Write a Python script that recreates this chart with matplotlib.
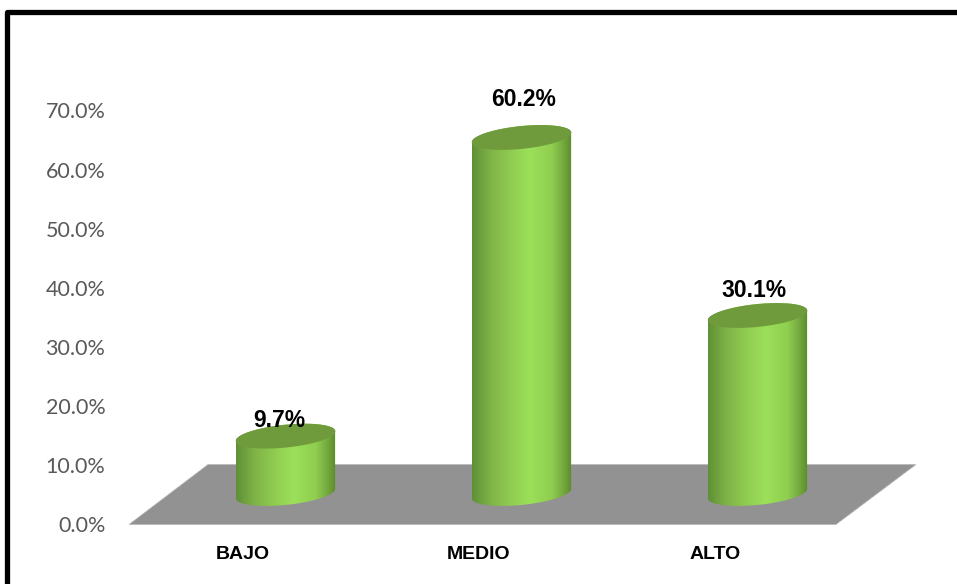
import numpy as np
import matplotlib
matplotlib.use("Agg")
import matplotlib.pyplot as plt
from matplotlib.colors import LinearSegmentedColormap
from matplotlib.lines import Line2D
from matplotlib.patches import Polygon

categories = ["BAJO", "MEDIO", "ALTO"]
values = [9.7, 60.2, 30.1]
value_labels = ["9.7%", "60.2%", "30.1%"]
y_ticks = [0, 10, 20, 30, 40, 50, 60, 70]
y_tick_labels = ["0.0%", "10.0%", "20.0%", "30.0%", "40.0%", "50.0%", "60.0%", "70.0%"]

W, H = 957, 584
L, R, B, T = 129, 916, 524.5, 95.5
PX_Y = 414 / 70        # pixels per percentage point
PX_X = 236             # pixels per category
X0 = 243               # pixel of the first category tick

fig = plt.figure(figsize=(W / 100, H / 100), dpi=100, facecolor="white")
ax = fig.add_axes([L / W, 1 - B / H, (R - L) / W, (B - T) / H])
ax.set_xlim((L - X0) / PX_X, (R - X0) / PX_X)
ax.set_ylim(0, (B - T) / PX_Y)
ax.patch.set_alpha(0)
for s in ax.spines.values():
    s.set_visible(False)

# floor
dx = lambda px: px / PX_X
dy = lambda px: px / PX_Y
xa, xb = ax.get_xlim()
floor_depth = dy(60)
floor = Polygon([(xa, 0), (xb - dx(80), 0), (xb, floor_depth), (xa + dx(79), floor_depth)],
                closed=True, fc="#929292", ec="#b8b8b8", lw=0.5, zorder=1)
ax.add_patch(floor)

# cylinders
cmap = LinearSegmentedColormap.from_list("cyl", [
    (0.00, "#5f9036"), (0.06, "#6a9c3c"), (0.20, "#80b548"), (0.42, "#92d052"), (0.58, "#9ce05a"),
    (0.80, "#8fce50"), (0.92, "#74a83e"), (1.00, "#5a8a2c")])
grad = np.linspace(0, 1, 256).reshape(1, -1)
A, Bm = 50, 11.4
tilt = np.arctan2(5, 49)
base_y = dy(31)
x_shift = dx(42.5)


def ell(cx, cy, t):
    px = A * np.cos(t) * np.cos(tilt) - Bm * np.sin(t) * np.sin(tilt)
    py = A * np.cos(t) * np.sin(tilt) + Bm * np.sin(t) * np.cos(tilt)
    return cx + dx(px), cy + dy(py)


offsets = [(-6, 16), (2, 38), (-4, 25)]
for i, (v, lab, off) in enumerate(zip(values, value_labels, offsets)):
    cx = i + x_shift
    top = base_y + v
    t_bot = np.linspace(np.pi - 0.1, 2 * np.pi - 0.1, 80)
    bx, by = ell(cx, base_y, t_bot)
    t_top = np.linspace(-0.1, np.pi - 0.1, 40)
    tx, ty = ell(cx, top, t_top)
    pts = np.column_stack([np.r_[bx, tx], np.r_[by, ty]])
    clip = Polygon(pts, closed=True, fc="none", ec="none", transform=ax.transData)
    ax.add_patch(clip)
    im = ax.imshow(grad, cmap=cmap, aspect="auto", zorder=2, interpolation="bilinear",
                   extent=(cx - dx(A), cx + dx(A), base_y - dy(14), top + dy(14)))
    im.set_clip_path(clip)
    ex, ey = ell(cx, top, np.linspace(0, 2 * np.pi, 120))
    ax.add_patch(Polygon(np.column_stack([ex, ey]), closed=True, fc="#6f9b3c", ec="none", zorder=3))
    ax.annotate(lab, xy=(cx, top), xytext=(off[0] * 0.72, off[1] * 0.72), textcoords="offset points",
                ha="center", va="center", fontsize=16.5, fontweight="bold",
                family="Liberation Sans", color="black", zorder=5, annotation_clip=False)

ax.set_xlim(xa, xb)
ax.set_ylim(0, (B - T) / PX_Y)

ax.set_yticks(y_ticks)
ax.set_yticklabels(y_tick_labels, fontsize=15.5, color="#595959", family="Lato")
ax.set_xticks(range(len(categories)))
ax.set_xticklabels(categories, fontsize=14, fontweight="bold", color="black", family="Liberation Sans")
ax.tick_params(axis="y", length=0, pad=17)
ax.tick_params(axis="x", length=0, pad=15.5)

# outer frame (left and top only)
frame = Line2D([7.5 / W, 7.5 / W, 1], [0, 1 - 11.5 / H, 1 - 11.5 / H], transform=fig.transFigure,
               color="black", lw=3.8, solid_joinstyle="round", solid_capstyle="butt")
fig.add_artist(frame)

fig.savefig("out.png", dpi=100, facecolor="white")
